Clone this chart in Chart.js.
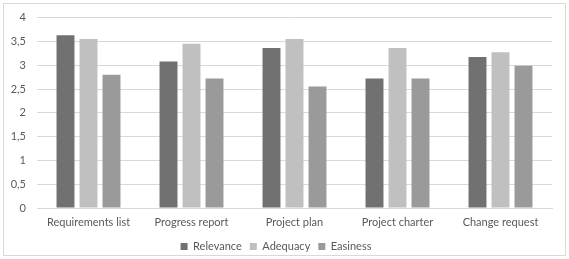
<!DOCTYPE html>
<html>
<head>
<meta charset="utf-8">
<script src="https://cdn.jsdelivr.net/npm/chart.js@4.4.1/dist/chart.umd.min.js"></script>
<style>
  html, body { margin: 0; padding: 0; background: #fff; }
  #wrap { position: absolute; left: 3px; top: 3px; width: 561px; height: 251px; border: 1px solid #d9d9d9; }
  #chart { position: absolute; left: 0; top: 0; }
</style>
</head>
<body>
<div id="wrap"></div>
<canvas id="chart" width="569" height="259"></canvas>
<script>
const categories = ["Requirements list", "Progress report", "Project plan", "Project charter", "Change request"];
const relevance = [3.63, 3.08, 3.36, 2.72, 3.17];
const adequacy = [3.55, 3.45, 3.55, 3.36, 3.27];
const easiness = [2.80, 2.72, 2.55, 2.72, 2.99];

const textColor = "#595959";
const fontFam = "Lato, 'Open Sans', sans-serif";

let ctx = document.getElementById('chart');

const mkSet = (label, data, color) => {
    return {
        label: label,
        data: data,
        backgroundColor: color,
        borderWidth: 0,
        categoryPercentage: 0.67,
        barPercentage: 0.78
    }
}

new Chart(ctx, {
    type: 'bar',
    data: {
        labels: categories,
        datasets: [
            mkSet("Relevance", relevance, "#717171"),
            mkSet("Adequacy", adequacy, "#c0c0c0"),
            mkSet("Easiness", easiness, "#9a9a9a")
        ]
    },
    options: {
        responsive: false,
        animation: false,
        layout: { padding: { top: 16, right: 17, bottom: -3, left: 0 } },
        scales: {
            x: {
                grid: { display: false, drawTicks: false },
                border: { color: "#d9d9d9" },
                ticks: { color: textColor, font: { family: fontFam, size: 11 }, padding: 8 },
                afterFit: (scale) => { scale.height = 25; }
            },
            y: {
                min: 0,
                max: 4,
                grid: { color: "#d9d9d9", drawTicks: false },
                border: { display: false },
                ticks: {
                    stepSize: 0.5,
                    color: textColor,
                    font: { family: fontFam, size: 11 },
                    padding: 11,
                    callback: (v) => String(v).replace('.', ',')
                },
                afterFit: (scale) => { scale.width = 37; }
            }
        },
        plugins: {
            legend: {
                position: 'bottom',
                labels: {
                    color: textColor,
                    font: { family: fontFam, size: 11 },
                    boxWidth: 7,
                    boxHeight: 7,
                    padding: 8
                }
            },
            tooltip: { enabled: false }
        }
    }
});
</script>
</body>
</html>
